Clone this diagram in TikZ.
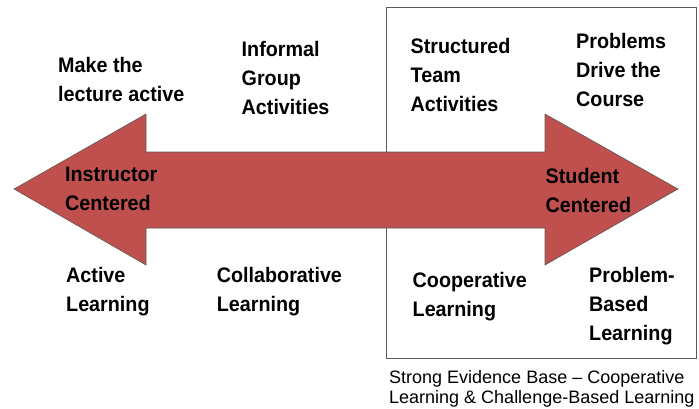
\documentclass[tikz,border=0pt]{standalone}
\usepackage{fontspec}
\setmainfont{Liberation Sans}
\newfontfamily\narrowbold[FakeStretch=0.94]{Liberation Sans Bold}
\definecolor{arrowred}{HTML}{C0504D}
\definecolor{edgegray}{HTML}{5A5A5A}
\tikzset{
    every node/.style={inner sep=0pt, anchor=north west, align=left,
    	font=\narrowbold\fontsize{21}{29}\selectfont}
}
\tikzset{
    note/.style={font=\fontsize{18}{20.4}\selectfont}
}

\begin{document}
\begin{tikzpicture}[x=1pt, y=-1pt]
  \useasboundingbox (0,0) rectangle (699,408);
  \node (box) [draw=edgegray, line width=0.9pt, minimum width=310pt,
    minimum height=351pt] at (386,7) {};

  \coordinate (tl) at (14,189);
  \coordinate (tr) at (678,189);
  \draw [fill=arrowred, draw=edgegray, line width=0.6pt]
    (tl) -- (146,114) -- (146,152) -- (545,152) -- (545,114) -- (tr)
    -- (545,265) -- (545,228) -- (146,228) -- (146,265) -- cycle;

  \node (mk) at (58,57.3) {Make the\\lecture active};
  \node (ig) at (241.5,40.7) {Informal\\Group\\Activities};
  \node (st) at (410.5,38.5) {Structured\\Team\\Activities};
  \node (pd) at (576,33.3) {Problems\\Drive the\\Course};

  \node (ic) at (65,166.7) {Instructor\\Centered};
  \node (sc) at (545.5,168.3) {Student\\Centered};

  \node (al) at (66,266.7) {Active\\Learning};
  \node (cl) at (216.7,266.7) {Collaborative\\Learning};
  \node (cp) at (412.5,271.7) {Cooperative\\Learning};
  \node (pb) at (589,266.7) {Problem-\\Based\\Learning};

  \node (ev) [note] at (389,369.8) {Strong Evidence Base -- Cooperative\\Learning \& Challenge-Based Learning};
\end{tikzpicture}
\end{document}
